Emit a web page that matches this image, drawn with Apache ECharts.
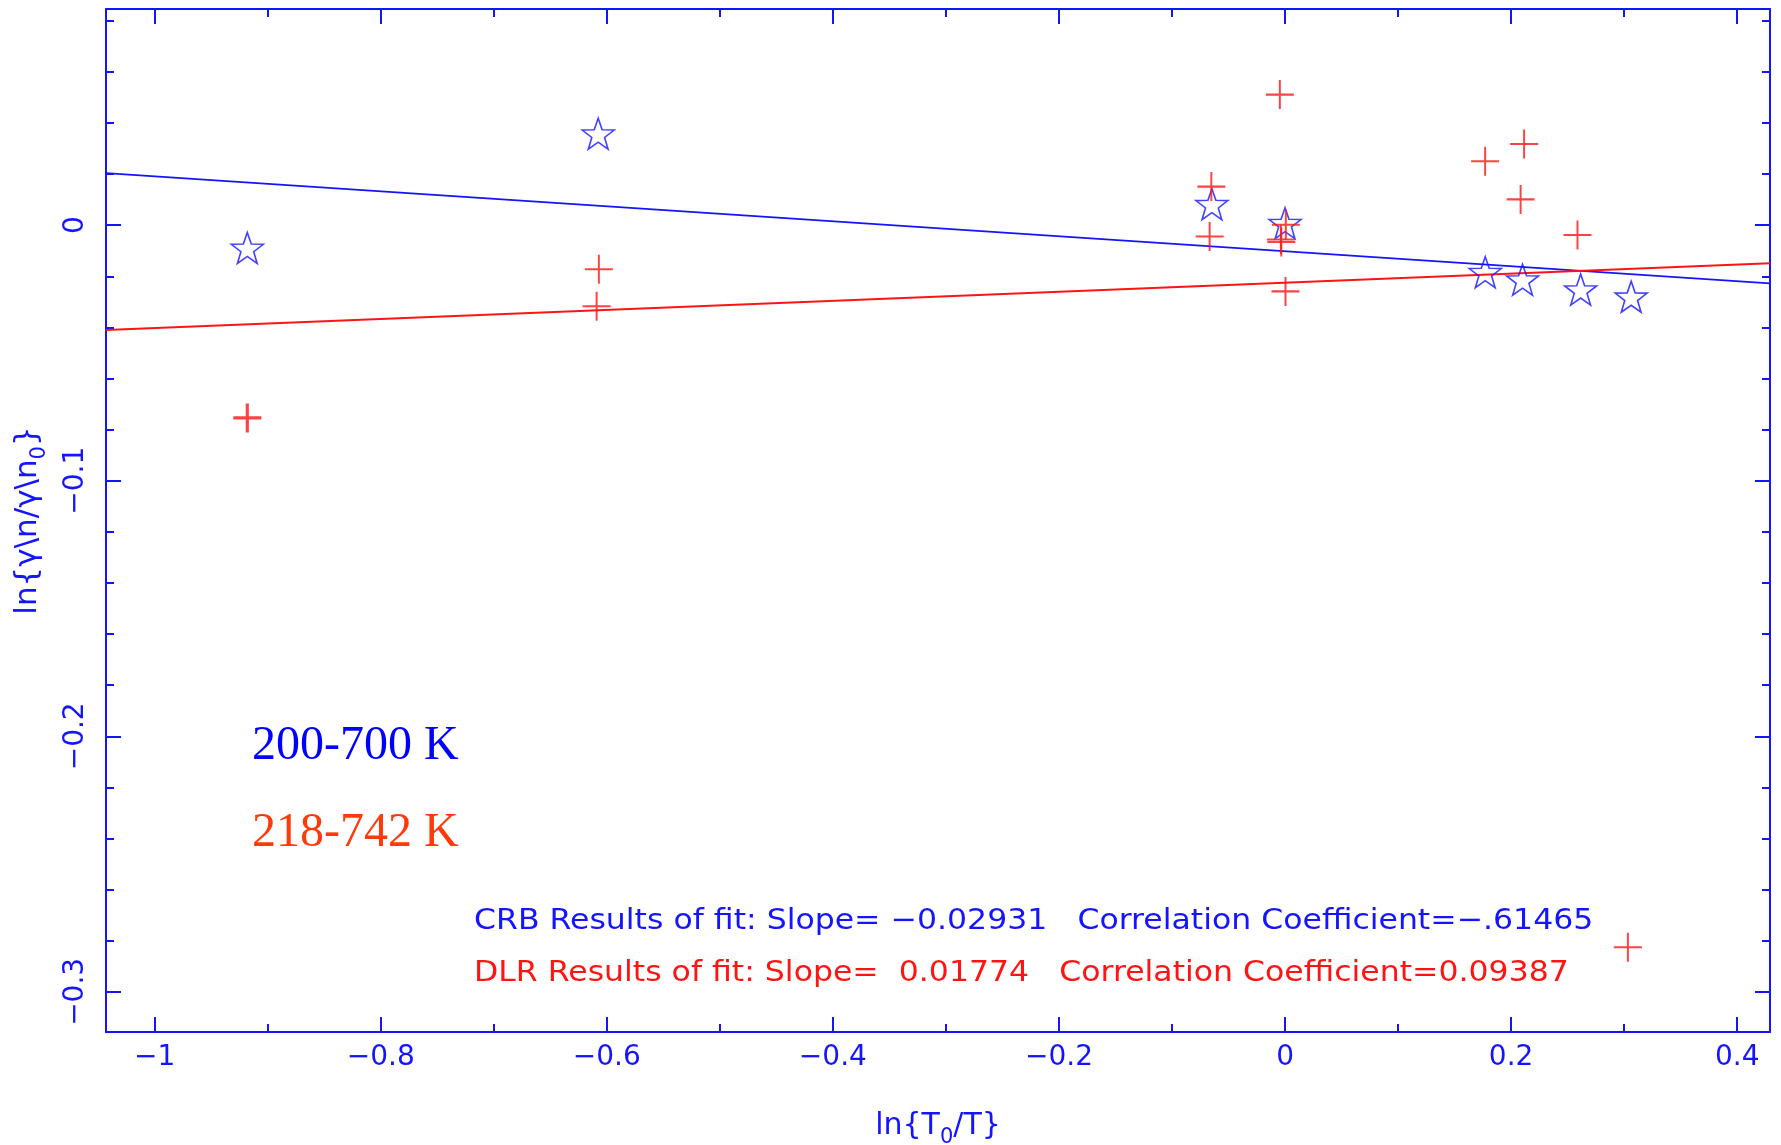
<!DOCTYPE html>
<html>
<head>
<meta charset="utf-8">
<script src="https://cdn.jsdelivr.net/npm/echarts@6/dist/echarts.min.js"></script>
<style>
  html, body { margin: 0; padding: 0; background: #ffffff; }
  #chart { width: 1781px; height: 1145px; }
</style>
</head>
<body>
<div id="chart"></div>
<script>
// CRB data set, 200-700 K: ln{T0/T} and ln{γn/γn0}
const crbX = [-0.918, -0.6076, -0.0647, 0.0000, 0.1771, 0.2101, 0.2615, 0.3062];
const crbY = [-0.0089, 0.0358, 0.0082, 0.0008, -0.0184, -0.0213, -0.0252, -0.0280];

// DLR data set, 218-742 K
const dlrX = [-0.918, -0.607, -0.609, -0.0652, -0.0667, -0.0046, 0.0007, -0.0037, -0.0033, 0.0004, 0.1770, 0.2115, 0.2084, 0.2587, 0.3033];
const dlrY = [-0.0754, -0.0172, -0.0317, 0.0151, -0.0044, 0.0511, 0.0002, -0.0056, -0.0066, -0.0259, 0.0250, 0.0318, 0.0101, -0.0038, -0.2825];

// straight-line fit results
const crbSlope = -0.02931;
const crbIntercept = -0.0102;
const crbCorr = -0.61465;
const dlrSlope = 0.01774;
const dlrIntercept = -0.0225;
const dlrCorr = 0.09387;

// axis extents and tick spacing
const xRange = [-1.043, 0.429];
const yRange = [-0.3157, 0.0846];
const xTickStep = 0.2;
const yTickStep = 0.1;

// temperature ranges of the two data sets
const rangeLabels = ['200-700 K', '218-742 K'];

const BLUE = '#1414ff';
const RED = '#ff1414';
const ORANGE = '#ff3a0a';
const PLOT_FONT = '"DejaVu Sans", sans-serif';

const MINUS = '\u2212';
function tickText(step) {
  return function (v) {
    if (Math.abs(v / step - Math.round(v / step)) > 1e-6) return '';
    const r = Math.round(v / step) * step;
    const s = String(Math.round(r * 1000) / 1000);
    return s.replace('-', MINUS);
  };
}
function slopeText(v) {
  return (v < 0 ? MINUS : ' ') + Math.abs(v).toFixed(5);
}
function corrText(v) {
  return v < 0 ? MINUS + Math.abs(v).toFixed(5).replace(/^0/, '') : v.toFixed(5);
}

// five-pointed star outline used as the CRB marker
function starPath() {
  const pts = [];
  for (let k = 0; k < 10; k++) {
    const a = -Math.PI / 2 + k * Math.PI / 5;
    const r = k % 2 === 0 ? 50 : 20;
    pts.push((50 + r * Math.cos(a)).toFixed(2) + ',' + (50 + r * Math.sin(a)).toFixed(2));
  }
  return 'path://M' + pts.join(' L') + ' Z';
}
const CROSS = 'path://M0,50 L100,50 M50,0 L50,100';

function axisBase(range, step, minorSplit) {
  return {
    type: 'value',
    min: range[0],
    max: range[1],
    minInterval: step,
    maxInterval: step,
    axisLine: { show: true, onZero: false, lineStyle: { color: BLUE, width: 2 } },
    axisTick: { show: true, inside: true, length: 15, lineStyle: { color: BLUE, width: 2 } },
    minorTick: { show: true, splitNumber: minorSplit, length: 8, lineStyle: { color: BLUE, width: 2 } },
    splitLine: { show: false },
    minorSplitLine: { show: false }
  };
}

const subStyle = { fontSize: 21, lineHeight: 21, verticalAlign: 'bottom', color: BLUE, fontFamily: PLOT_FONT };

const xAxes = [
  Object.assign(axisBase(xRange, xTickStep, 2), {
    position: 'bottom',
    axisLabel: {
      show: true, color: BLUE, fontSize: 28, fontFamily: PLOT_FONT, margin: 12,
      showMinLabel: false, showMaxLabel: false, formatter: tickText(xTickStep)
    },
    name: 'ln{T{sub|0}/T}',
    nameLocation: 'middle',
    nameGap: 72,
    nameMoveOverlap: false,
    nameTextStyle: { color: BLUE, fontSize: 30, fontFamily: PLOT_FONT, lineHeight: 44, rich: { sub: subStyle } }
  }),
  Object.assign(axisBase(xRange, xTickStep, 2), {
    position: 'top',
    axisLabel: { show: false }
  })
];

const yAxes = [
  Object.assign(axisBase(yRange, yTickStep, 5), {
    position: 'left',
    axisLabel: {
      show: true, color: BLUE, fontSize: 28, fontFamily: PLOT_FONT, margin: 16, rotate: 90,
      showMinLabel: false, showMaxLabel: false, formatter: tickText(yTickStep)
    },
    name: 'ln{\u03b3\\n/\u03b3\\n{sub|0}}',
    nameLocation: 'middle',
    nameGap: 56,
    nameMoveOverlap: false,
    nameTextStyle: { color: BLUE, fontSize: 31, fontFamily: PLOT_FONT, lineHeight: 44, rich: { sub: subStyle } }
  }),
  Object.assign(axisBase(yRange, yTickStep, 5), {
    position: 'right',
    axisLabel: { show: false }
  })
];

function fitLine(slope, intercept) {
  return [xRange[0], xRange[1]].map(function (x) { return [x, intercept + slope * x]; });
}

const crbPoints = crbX.map(function (x, i) { return [x, crbY[i]]; });
const dlrPoints = dlrX.map(function (x, i) {
  // the lowest-temperature DLR point is drawn with a heavier stroke
  return i === 0 ? { value: [x, dlrY[i]], itemStyle: { borderWidth: 3.2 } } : [x, dlrY[i]];
});

const crbLine = 'CRB Results of fit: Slope= ' + slopeText(crbSlope) + '   Correlation Coefficient=' + corrText(crbCorr);
const dlrLine = 'DLR Results of fit: Slope= ' + slopeText(dlrSlope) + '   Correlation Coefficient=' + corrText(dlrCorr);

const chart = echarts.init(document.getElementById('chart'), null, { renderer: 'canvas' });
chart.setOption({
  animation: false,
  backgroundColor: '#ffffff',
  grid: { left: 106, right: 11, top: 9, bottom: 113, containLabel: false, outerBoundsMode: 'none' },
  xAxis: xAxes,
  yAxis: yAxes,
  series: [
    {
      type: 'line', data: fitLine(crbSlope, crbIntercept), showSymbol: false, symbol: 'none',
      lineStyle: { color: BLUE, width: 1.8 }, z: 1, silent: true
    },
    {
      type: 'line', data: fitLine(dlrSlope, dlrIntercept), showSymbol: false, symbol: 'none',
      lineStyle: { color: RED, width: 1.8 }, z: 1, silent: true
    },
    {
      type: 'scatter', data: crbPoints, symbol: starPath(), symbolSize: [32, 31],
      itemStyle: { color: 'none', borderColor: BLUE, borderWidth: 1.6 }, z: 3
    },
    {
      type: 'scatter', data: dlrPoints, symbol: CROSS, symbolSize: [28, 29],
      itemStyle: { color: 'none', borderColor: RED, borderWidth: 2 }, z: 4
    }
  ],
  graphic: [
    {
      type: 'text', left: 252, top: 746 - 24, z: 10,
      style: { text: rangeLabels[0], fill: '#0000ff', font: '48px "Liberation Serif", serif' }
    },
    {
      type: 'text', left: 252, top: 833 - 24, z: 10,
      style: { text: rangeLabels[1], fill: ORANGE, font: '48px "Liberation Serif", serif' }
    },
    {
      type: 'text', left: 474, top: 923 - 16, z: 10, scaleX: 1.087,
      style: { text: crbLine, fill: BLUE, font: '29px ' + PLOT_FONT }
    },
    {
      type: 'text', left: 474, top: 975 - 16, z: 10, scaleX: 1.087,
      style: { text: dlrLine, fill: RED, font: '29px ' + PLOT_FONT }
    }
  ]
});
</script>
</body>
</html>
